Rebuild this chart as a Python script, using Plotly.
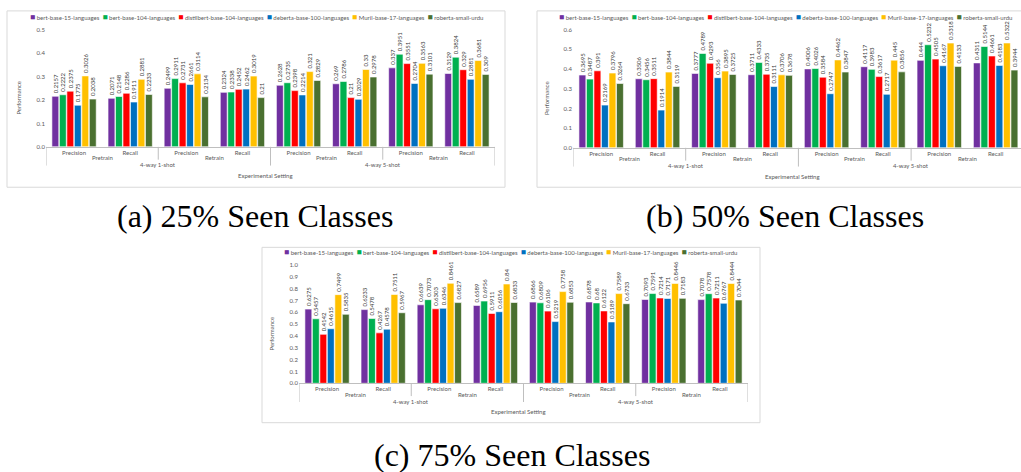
import plotly.graph_objects as go

# ---------------- data ----------------
models = ["bert-base-15-languages", "bert-base-104-languages", "distilbert-base-104-languages",
          "deberta-base-100-languages", "Muril-base-17-languages", "roberta-small-urdu"]
colors = ["#7030A0", "#00B050", "#FF0000", "#0070C0", "#FFC000", "#4A7030"]

metric_labels = ["Precision", "Recall"] * 4
phase_labels = ["Pretrain", "Pretrain", "Retrain", "Retrain"] * 2
shot_labels = ["4-way 1-shot"] * 4 + ["4-way 5-shot"] * 4

# rows = models, columns = groups (1-shot Pretrain P/R, Retrain P/R, 5-shot Pretrain P/R, Retrain P/R)
seen25 = [
    [0.2157, 0.2071, 0.2499, 0.2324, 0.2628, 0.269, 0.337, 0.3129],
    [0.2222, 0.2148, 0.2911, 0.2338, 0.2735, 0.2786, 0.3951, 0.3824],
    [0.2375, 0.2286, 0.2731, 0.2452, 0.2398, 0.21, 0.3551, 0.329],
    [0.1775, 0.1911, 0.2661, 0.2462, 0.2214, 0.2029, 0.2704, 0.2881],
    [0.3026, 0.2881, 0.3114, 0.3019, 0.321, 0.33, 0.3563, 0.3681],
    [0.2038, 0.2233, 0.2134, 0.21, 0.2829, 0.2978, 0.3101, 0.309],
]
seen50 = [
    [0.3695, 0.3506, 0.3777, 0.3711, 0.4006, 0.4117, 0.444, 0.4311],
    [0.3487, 0.3456, 0.4789, 0.4333, 0.4026, 0.3983, 0.5232, 0.5144],
    [0.391, 0.3511, 0.4293, 0.3735, 0.3584, 0.3617, 0.4505, 0.4661],
    [0.2169, 0.1914, 0.356, 0.3111, 0.2747, 0.2717, 0.4167, 0.4183],
    [0.3796, 0.3844, 0.3895, 0.3706, 0.4462, 0.445, 0.5318, 0.5322],
    [0.3264, 0.3119, 0.3725, 0.3678, 0.3847, 0.3856, 0.4133, 0.3944],
]
seen75 = [
    [0.6275, 0.6233, 0.6639, 0.6589, 0.6866, 0.6878, 0.7093, 0.7078],
    [0.5457, 0.5478, 0.7073, 0.6956, 0.6809, 0.68, 0.7591, 0.7578],
    [0.4142, 0.4267, 0.6303, 0.5911, 0.6106, 0.6122, 0.7214, 0.7211],
    [0.4615, 0.4578, 0.6346, 0.6056, 0.5219, 0.5189, 0.7171, 0.6767],
    [0.7499, 0.7511, 0.8461, 0.84, 0.7758, 0.7589, 0.8446, 0.8444],
    [0.5835, 0.5967, 0.6827, 0.6833, 0.6853, 0.6733, 0.7183, 0.7044],
]
captions = ["(a) 25% Seen Classes", "(b) 50% Seen Classes", "(c) 75% Seen Classes"]

# ---------------- layout helpers ----------------
W, H = 1021, 472
def px(x): return x / W
def py(y): return 1 - y / H

SANS = "Lato"
SMALL = 6
GREY = "#595959"

panels = [
    dict(vals=seen25, x0=46, x1=495, xhi=7.5, ybot=145, ytop=26, ymax=0.5,
         leg=(256, 13), box=(7, 7, 505, 186), cap=(255, 215)),
    dict(vals=seen50, x0=573, x1=1021, xhi=7.45, ybot=146, ytop=26, ymax=0.6,
         leg=(785, 13), box=(537, 7, 1030, 186), cap=(785, 215)),
    dict(vals=seen75, x0=299, x1=748, xhi=7.5, ybot=385, ytop=265, ymax=1.0,
         leg=(510, 252), box=(262, 247, 760, 425), cap=(512, 458)),
]

fig = go.Figure()
annotations = []
shapes = []
n = len(metric_labels)
idx = list(range(n))

def note(x, y, text, xref="paper", size=SMALL, color=GREY, family=SANS, angle=0):
    annotations.append(dict(x=x, y=y, xref=xref, yref="paper", text=text, showarrow=False,
                            xanchor="center", yanchor="middle", textangle=angle,
                            font=dict(size=size, color=color, family=family)))

for p, (P, cap) in enumerate(zip(panels, captions)):
    s = "" if p == 0 else str(p + 1)
    xa, ya = "x" + s, "y" + s
    for m, (name, col) in enumerate(zip(models, colors)):
        vals = P["vals"][m]
        fig.add_trace(go.Bar(
            x=idx, y=vals, name=name, xaxis=xa, yaxis=ya, showlegend=False,
            marker=dict(color=col, line=dict(color="white", width=0.6)),
            text=[str(v) for v in vals], textposition="outside", textangle=-90,
            textfont=dict(size=SMALL, color="#404040", family=SANS),
            constraintext="none", cliponaxis=False,
        ))
    fig.update_layout(**{
        "xaxis" + s: dict(domain=[px(P["x0"]), px(P["x1"])], range=[-0.5, P["xhi"]], anchor=ya,
                          showline=True, linecolor="#BFBFBF", linewidth=1, showgrid=False, zeroline=False,
                          tickmode="array", tickvals=idx, ticktext=metric_labels, ticks="",
                          tickfont=dict(size=SMALL, color=GREY, family=SANS)),
        "yaxis" + s: dict(domain=[py(P["ybot"]), py(P["ytop"])], range=[0, P["ymax"] + 1e-6], anchor=xa,
                          dtick=0.1, tickformat=".1f", showgrid=False, zeroline=False, showline=False,
                          ticks="", tickfont=dict(size=SMALL, color=GREY, family=SANS)),
    })
    yb = P["ybot"]
    # phase labels (second level)
    for k in range(0, n, 2):
        note((idx[k] + idx[k + 1]) / 2, py(yb + 11), phase_labels[k], xref=xa)
    # shot labels (third level)
    for k in range(0, n, 4):
        note((idx[k] + idx[k + 3]) / 2, py(yb + 18), shot_labels[k], xref=xa)
    # separators
    for k in range(0, n + 1, 2):
        xpos = k - 0.5
        depth = 19 if k % 4 == 0 else 13
        shapes.append(dict(type="line", xref=xa, yref="paper", x0=xpos, x1=xpos,
                           y0=py(yb), y1=py(yb + depth), line=dict(color="#BFBFBF", width=1)))
    # axis titles
    note(px((P["x0"] + P["x1"]) / 2 - 5), py(yb + 29), "Experimental Setting")
    note(px(P["x0"] - 27), py((P["ytop"] + yb + 19) / 2), "Performance", angle=-90)
    # legend
    parts = [f"<span style='color:{c};font-size:8.5px'>■</span>\u00a0{m}" for m, c in zip(models, colors)]
    note(px(P["leg"][0]), py(P["leg"][1]), "\u00a0\u00a0".join(parts))
    # chart border
    bx0, by0, bx1, by1 = P["box"]
    shapes.append(dict(type="rect", xref="paper", yref="paper", x0=px(bx0), x1=px(bx1),
                       y0=py(by1), y1=py(by0), line=dict(color="#D9D9D9", width=1), layer="below"))
    # caption
    note(px(P["cap"][0]), py(P["cap"][1]), cap, size=32, color="black", family="Liberation Serif")

fig.update_layout(
    width=W, height=H, margin=dict(l=0, r=0, t=0, b=0),
    paper_bgcolor="white", plot_bgcolor="white",
    barmode="group", bargap=0.2, bargroupgap=0.08,
    annotations=annotations, shapes=shapes,
    font=dict(family=SANS),
)
fig.write_html("out.html", config={"displayModeBar": False},
               post_script="document.body.style.margin='0';")
